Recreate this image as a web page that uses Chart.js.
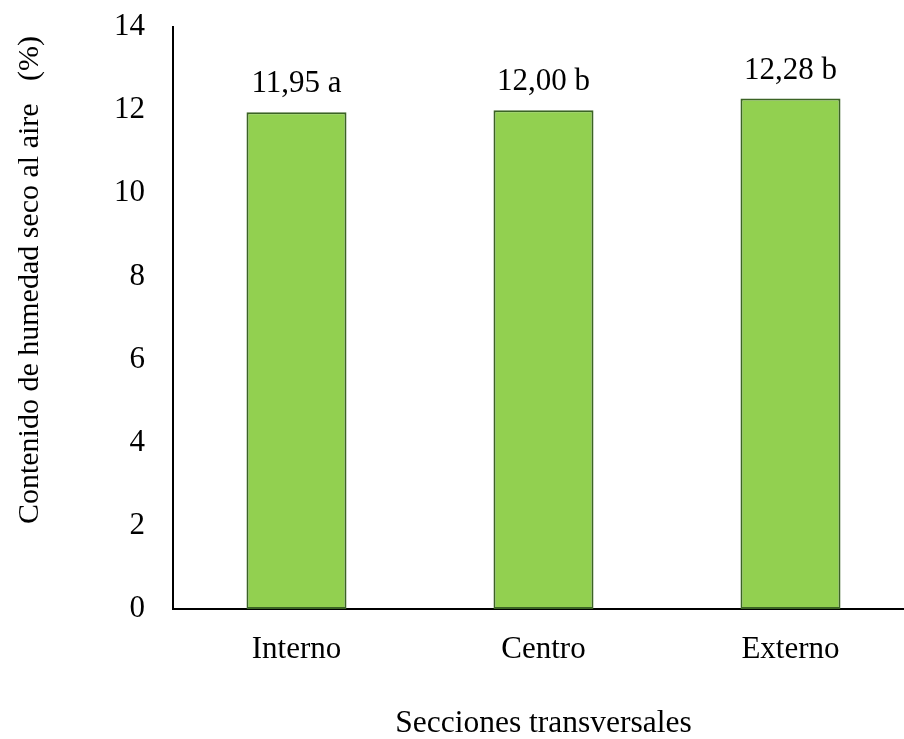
<!DOCTYPE html>
<html>
<head>
<meta charset="utf-8">
<script src="https://cdn.jsdelivr.net/npm/chart.js@4"></script>
<style>
  html, body { margin: 0; padding: 0; background: #fff; overflow: hidden; }
  #wrap { width: 914px; height: 739px; }
</style>
</head>
<body>
<div id="wrap"><canvas id="humedadchart"></canvas></div>
<script>
var categories = ["Interno", "Centro", "Externo"];
var values = [11.95, 12.00, 12.28];
var letters = ["a", "b", "b"];
var yTicks = [0, 2, 4, 6, 8, 10, 12, 14];

var serif = "'Liberation Serif', 'Times New Roman', serif";

// etiquetas encima de las barras
var barLabels = {
    id: 'barLabels',
    afterDatasetsDraw: function(chart) {
        var ctx = chart.ctx;
        var meta = chart.getDatasetMeta(0);
        ctx.save();
        ctx.font = '31px ' + serif;
        ctx.fillStyle = '#000';
        ctx.textAlign = 'center';
        ctx.textBaseline = 'alphabetic';
        meta.data.forEach(function(bar, i) {
            var txt = values[i].toFixed(2).replace('.', ',') + ' ' + letters[i];
            ctx.fillText(txt, bar.x, bar.y - 20);
        });
        ctx.restore();
    }
};

// titulo del eje y
var yTitle = {
    id: 'yTitle',
    afterDraw: function(chart) {
        var ctx = chart.ctx;
        ctx.save();
        ctx.translate(30, 280);
        ctx.rotate(-Math.PI / 2);
        ctx.font = '30px ' + serif;
        ctx.fillStyle = '#000';
        ctx.textAlign = 'center';
        ctx.textBaseline = 'middle';
        ctx.fillText('Contenido de humedad seco al aire   (%)', 0, 0);
        ctx.restore();
    }
};

var ctx = document.getElementById("humedadchart").getContext("2d");

var myChart = new Chart(ctx, {
    type: 'bar',
    data: {
        labels: categories,
        datasets: [{
            data: values,
            backgroundColor: '#92d050',
            borderColor: '#3b6324',
            borderWidth: 2,
            borderSkipped: false,
            barPercentage: 0.405,
            categoryPercentage: 1
        }]
    },
    options: {
        responsive: true,
        maintainAspectRatio: false,
        animation: false,
        layout: {
            padding: { top: 27, right: 0, left: 0, bottom: 0 }
        },
        scales: {
            x: {
                grid: { display: false, drawTicks: false },
                border: { display: true, color: '#000', width: 2 },
                ticks: {
                    color: '#000',
                    font: { family: serif, size: 31 },
                    padding: 22
                },
                title: {
                    display: true,
                    text: 'Secciones transversales',
                    color: '#000',
                    font: { family: serif, size: 31.5, lineHeight: 1 },
                    padding: { top: 0, bottom: 0 }
                },
                afterFit: function(scale) { scale.height = 130; }
            },
            y: {
                min: 0,
                max: 14,
                afterBuildTicks: function(scale) {
                    scale.ticks = yTicks.map(function(v) { return { value: v }; });
                },
                grid: { display: false, drawTicks: false },
                border: { display: true, color: '#000', width: 2 },
                ticks: {
                    color: '#000',
                    font: { family: serif, size: 31 },
                    padding: 28
                },
                afterFit: function(scale) {
                    scale.width = 173;
                    scale.paddingTop = 0;
                }
            }
        },
        plugins: {
            legend: { display: false },
            tooltip: { enabled: false }
        }
    },
    plugins: [barLabels, yTitle]
});
</script>
</body>
</html>
